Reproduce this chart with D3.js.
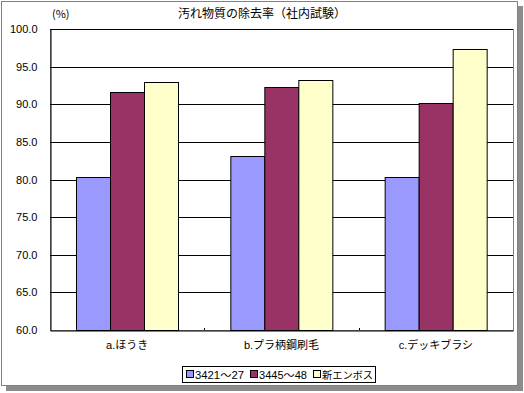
<!DOCTYPE html>
<html>
<head>
<meta charset="utf-8">
<script src="https://cdn.jsdelivr.net/npm/d3@7"></script>
<style>
  body { margin: 0; background: #fff; }
  svg { display: block; font-family: "Liberation Sans", Arial, "Noto Sans CJK JP", sans-serif; }
</style>
</head>
<body>
<div id="chart"></div>
<script>
// data
const categories = ["a.ほうき", "b.プラ柄鋼刷毛", "c.デッキブラシ"];
const seriesNames = ["3421～27", "3445～48", "新エンボス"];
const s3421 = [80.3, 83.1, 80.3];
const s3445 = [91.6, 92.3, 90.1];
const sNew = [92.9, 93.2, 97.4];
const yTicks = [60, 65, 70, 75, 80, 85, 90, 95, 100];
const colors = ["#9999ff", "#993366", "#ffffcc"];

const width = 524, height = 393;
const plot = {left: 50, right: 513, top: 29, bottom: 330};

const svg = d3.select("#chart").append("svg")
    .attr("width", width)
    .attr("height", height);

// frame with shadow
svg.append("rect")
    .attr("x", 6).attr("y", 6)
    .attr("width", 517).attr("height", 385)
    .attr("fill", "#8c8c8c");
svg.append("rect")
    .attr("x", 1.5).attr("y", 1.5)
    .attr("width", 516).attr("height", 384)
    .attr("fill", "#fff")
    .attr("stroke", "#808080");

const x0 = d3.scaleBand()
    .domain(categories)
    .range([plot.left, plot.right])
    .paddingInner(0).paddingOuter(0);

const x1 = d3.scaleBand()
    .domain(seriesNames)
    .range([0, x0.bandwidth()])
    .paddingInner(0)
    .paddingOuter(0.77);

const y = d3.scaleLinear()
    .domain([60, 100])
    .range([plot.bottom, plot.top]);

// plot area border
svg.append("rect")
    .attr("x", plot.left + 0.5).attr("y", plot.top + 0.5)
    .attr("width", plot.right - plot.left).attr("height", plot.bottom - plot.top)
    .attr("fill", "none")
    .attr("stroke", "#808080");

// gridlines
svg.append("g")
    .selectAll("line")
    .data(yTicks.slice(1))
    .join("line")
    .attr("x1", plot.left).attr("x2", plot.right)
    .attr("y1", d => Math.round(y(d)) + 0.5)
    .attr("y2", d => Math.round(y(d)) + 0.5)
    .attr("stroke", "#000");

// bars
const rows = categories.map((c, i) => ({cat: c, vals: [s3421[i], s3445[i], sNew[i]]}));

svg.append("g")
    .selectAll("g")
    .data(rows)
    .join("g")
    .attr("transform", d => `translate(${x0(d.cat)},0)`)
    .selectAll("rect")
    .data(d => d.vals.map((v, j) => ({key: seriesNames[j], v, j})))
    .join("rect")
    .attr("x", d => Math.round(x1(d.key)) + 0.5)
    .attr("y", d => Math.round(y(d.v)) + 0.5)
    .attr("width", Math.round(x1.bandwidth()))
    .attr("height", d => plot.bottom - Math.round(y(d.v)))
    .attr("fill", d => colors[d.j])
    .attr("stroke", "#000");

// y axis
const yAxis = svg.append("g")
    .attr("transform", `translate(${plot.left + 0.5},0)`)
    .call(d3.axisLeft(y).tickValues(yTicks).tickSize(0).tickPadding(13).tickFormat(d3.format(".1f")));
yAxis.select(".domain").attr("stroke", "#000");
yAxis.selectAll("text").attr("font-size", 11).attr("fill", "#000")
    .attr("font-family", "Liberation Sans, Arial, sans-serif");

// x axis
const xAxis = svg.append("g")
    .attr("transform", `translate(0,${plot.bottom + 0.5})`)
    .call(d3.axisBottom(x0).tickSize(0).tickPadding(11));
xAxis.select(".domain").attr("stroke", "#000");
xAxis.selectAll("text").attr("font-size", 11).attr("fill", "#000")
    .attr("font-family", "Liberation Sans, Arial, Noto Sans CJK JP, sans-serif");

// inside ticks between categories
svg.append("g")
    .selectAll("line")
    .data(categories.slice(1))
    .join("line")
    .attr("x1", d => Math.round(x0(d)) + 0.5)
    .attr("x2", d => Math.round(x0(d)) + 0.5)
    .attr("y1", plot.bottom - 2)
    .attr("y2", plot.bottom)
    .attr("stroke", "#000");

// title and unit
svg.append("text")
    .attr("x", 262).attr("y", 18)
    .attr("text-anchor", "middle")
    .attr("font-size", 12)
    .attr("font-family", "Noto Sans CJK JP, sans-serif")
    .text("汚れ物質の除去率（社内試験）");

svg.append("text")
    .attr("x", 52).attr("y", 18)
    .attr("font-size", 11)
    .attr("font-family", "Noto Sans CJK JP, sans-serif")
    .text("(%)");

// legend
const legend = svg.append("g");
legend.append("rect")
    .attr("x", 182.5).attr("y", 366.5)
    .attr("width", 193).attr("height", 16)
    .attr("fill", "#fff")
    .attr("stroke", "#000");

const legX = [186, 250, 313];
const items = legend.selectAll("g.item")
    .data(seriesNames)
    .join("g")
    .attr("class", "item")
    .attr("transform", (d, i) => `translate(${legX[i]},370)`);

items.append("rect")
    .attr("x", 0.5).attr("y", 0.5)
    .attr("width", 7).attr("height", 7)
    .attr("fill", (d, i) => colors[i])
    .attr("stroke", "#000");

items.append("text")
    .attr("x", 9).attr("y", 8.5)
    .attr("font-size", 10)
    .attr("font-family", "Liberation Sans, Arial, Noto Sans CJK JP, sans-serif")
    .attr("textLength", (d, i) => [49, 48, 51][i])
    .attr("lengthAdjust", "spacingAndGlyphs")
    .text(d => d);
</script>
</body>
</html>
